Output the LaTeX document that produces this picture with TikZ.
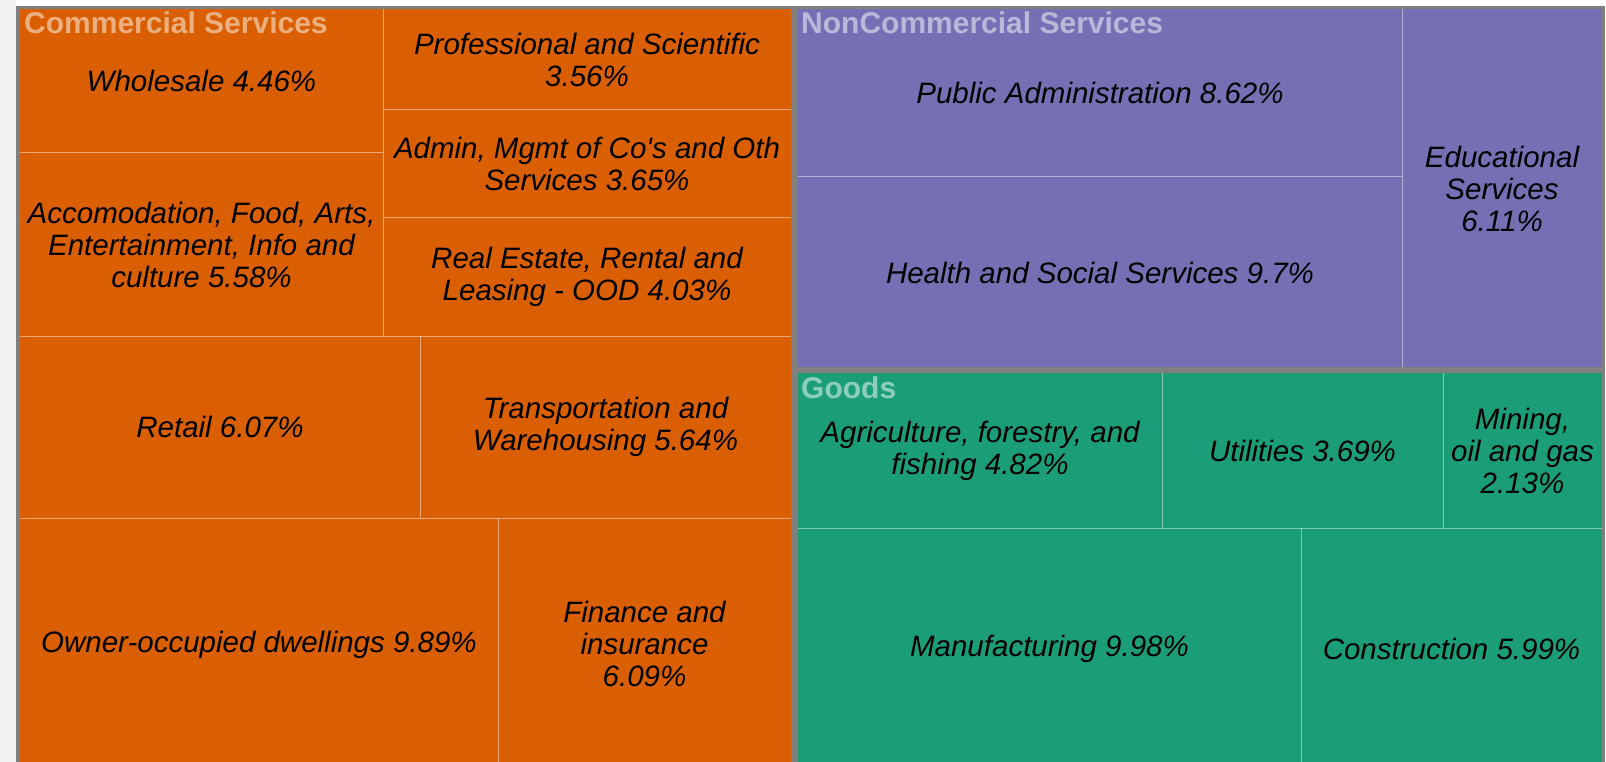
\documentclass[tikz,border=0pt]{standalone}
\usepackage{fontspec}
\setmainfont{Liberation Sans}
\usepackage{xcolor}
\usepackage{tikz}
\usetikzlibrary{positioning}

\definecolor{commcol}{HTML}{D95F02}
\definecolor{noncol}{HTML}{7570B3}
\definecolor{goodscol}{HTML}{1B9E77}
\definecolor{framecol}{HTML}{808080}

\tikzset{
    % cell labels
    cell/.style={
        font=\itshape\fontsize{29.5}{32}\selectfont,
        align=center,
        text=black,
        inner sep=0pt
    },
    % group titles
    group/.style={
        font=\bfseries\fontsize{30}{32}\selectfont,
        text=white,
        text opacity=0.5,
        anchor=base west,
        inner sep=0pt
    },
    % thin lines between cells
    divider/.style={
        draw=white,
        draw opacity=0.45,
        line width=1pt
    }
}

\begin{document}
\begin{tikzpicture}[x=1pt, y=-1pt]
    \useasboundingbox (0,0) rectangle (1606,762);
    \clip (0,0) rectangle (1606,762);

    % Background and frame
    \fill[black!5] (0,0) rectangle (16,762);
    \fill[framecol] (16,6) rectangle (1605,780);

    % Groups
    \fill[commcol] (20,9.5) rectangle (791,780);
    \fill[noncol] (798,9.5) rectangle (1602,366.5);
    \fill[goodscol] (798,373) rectangle (1602,780);

    % Dividers - Commercial
    \draw[divider] (383,9.5) -- (383,336);
    \draw[divider] (20,152.5) -- (383,152.5);
    \draw[divider] (383,110) -- (791,110);
    \draw[divider] (383,218) -- (791,218);
    \draw[divider] (20,336) -- (791,336);
    \draw[divider] (420,336) -- (420,518);
    \draw[divider] (20,518) -- (791,518);
    \draw[divider] (498,518) -- (498,780);
    % Dividers - NonCommercial
    \draw[divider] (1402,9.5) -- (1402,366.5);
    \draw[divider] (798,177) -- (1402,177);
    % Dividers - Goods
    \draw[divider] (798,528) -- (1602,528);
    \draw[divider] (1162,373) -- (1162,528);
    \draw[divider] (1443,373) -- (1443,528);
    \draw[divider] (1301,528) -- (1301,780);

    % Group titles
    \node[group] (commlbl) at (24,34) {Commercial Services};
    \node[group] (nonlbl) at (801,34) {NonCommercial Services};
    \node[group] (goodslbl) at (801,398) {Goods};

    % Cells
    \node[cell] (whole) at (201.5,81) {Wholesale 4.46\%};
    \node[cell] (prof) at (587,59.7) {Professional and Scientific\\3.56\%};
    \node[cell] (admin) at (587,164) {Admin, Mgmt of Co\textquotesingle s and Oth\\Services 3.65\%};
    \node[cell] (realest) at (587,277) {Real Estate, Rental and\\Leasing - OOD 4.03\%};
    \node[cell] (accom) at (201.5,245) {Accomodation, Food, Arts,\\Entertainment, Info and\\culture 5.58\%};
    \node[cell] (retail) at (220,427) {Retail 6.07\%};
    \node[cell] (transp) at (605.5,427) {Transportation and\\Warehousing 5.64\%};
    \node[cell] (owner) at (259,645) {Owner-occupied dwellings 9.89\%};
    \node[cell] (finance) at (644.5,643.5) {Finance and\\insurance\\6.09\%};

    \node[cell] (pubadm) at (1100,93) {Public Administration 8.62\%};
    \node[cell] (health) at (1100,273) {Health and Social Services 9.7\%};
    \node[cell] (educ) at (1502,189) {Educational\\Services\\6.11\%};

    \node[cell] (agri) at (980,451) {Agriculture, forestry, and\\fishing 4.82\%};
    \node[cell] (util) at (1302.5,451) {Utilities 3.69\%};
    \node[cell] (mining) at (1522.5,451) {Mining,\\oil and gas\\2.13\%};
    \node[cell] (manuf) at (1049.5,649) {Manufacturing 9.98\%};
    \node[cell] (constr) at (1451.5,649) {Construction 5.99\%};

\end{tikzpicture}
\end{document}
